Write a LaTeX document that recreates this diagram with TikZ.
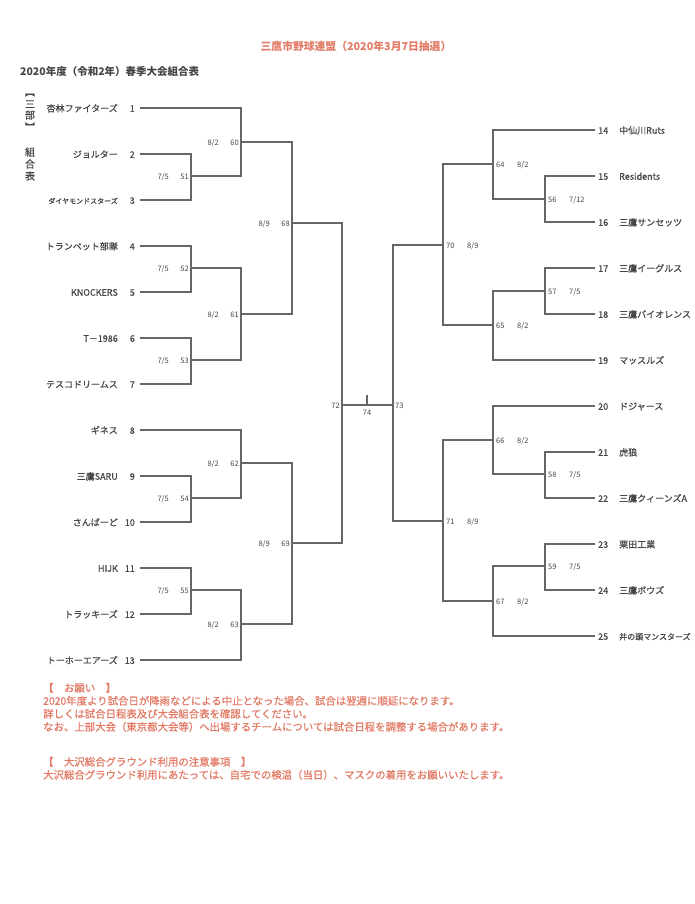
\documentclass[tikz,border=0pt]{standalone}
\usepackage{fontspec}
\setmainfont{Noto Sans CJK JP}
\newfontfamily\medfont{Noto Sans CJK JP}[FakeBold=0.5]
\definecolor{ink}{HTML}{454545}
\definecolor{wirec}{HTML}{666666}
\definecolor{redtxt}{HTML}{E27A66}
\newcommand\fsz[1]{\fontsize{#1}{#1}\selectfont}
\begin{document}
\begin{tikzpicture}[x=1pt,y=-1pt,
  wire/.style={draw=wirec, line width=1.1pt},
  txt/.style={inner sep=0pt, text=ink, text height=.75em, text depth=0pt},
  tname/.style={txt, font=\medfont\fsz{9}},
  tnum/.style={txt, font=\medfont\fsz{9}},
  code/.style={txt, font=\fsz{7.5}},
  vchar/.style={txt, font=\medfont\fsz{10}},
  redline/.style={inner sep=0pt, text=redtxt, text height=.75em, text depth=0pt, font=\medfont\fsz{10.4}, anchor=west}
]
\fill[white] (0,0) rectangle (694,904);
\useasboundingbox (0,0) rectangle (694,904);

% titles
\node[inner sep=0pt, text=redtxt, font=\fsz{10.8}\bfseries, text height=.75em, text depth=0pt] (title) at (356,47) {三鷹市野球連盟（2020年3月7日抽選）};
\node[txt, font=\fsz{10.5}\bfseries, anchor=west] (head) at (20,72) {2020年度（令和2年）春季大会組合表};

% vertical label
\node[vchar, rotate=-90] (vb1) at (30,92) {【};
\node[vchar] (v1) at (30,104) {三};
\node[vchar] (v2) at (30,115) {部};
\node[vchar, rotate=-90] (vb2) at (30,127) {】};
\node[vchar] (v3) at (30,152) {組};
\node[vchar] (v4) at (30,164) {合};
\node[vchar] (v5) at (30,176) {表};

% left teams
\foreach \n/\t/\s in {1/杏林ファイターズ/9, 2/ジョルター/9, 3/ダイヤモンドスターズ/7, 4/トランペット部隊/9,
  5/KNOCKERS/9, 6/T－1986/9, 7/テスコドリームス/9, 8/ギネス/9, 9/三鷹SARU/9, 10/さんぱーど/9,
  11/HIJK/9, 12/トラッキーズ/9, 13/トーホーエアーズ/9}{
  \pgfmathsetmacro\yy{108+46*(\n-1)}
  \node[tname, font=\medfont\fsz{\s}, anchor=east] (tl\n) at (118,\yy) {\t};
  \node[tnum, anchor=east] (nl\n) at (135,\yy) {\n};
  \coordinate (L\n) at (140,\yy);
}
% right teams
\foreach \n/\t/\s in {14/中仙川Ruts/9, 15/Residents/9, 16/三鷹サンセッツ/9, 17/三鷹イーグルス/9,
  18/三鷹バイオレンス/9, 19/マッスルズ/9, 20/ドジャース/9, 21/虎狼/9, 22/三鷹クィーンズA/9,
  23/栗田工業/9, 24/三鷹ボウズ/9, 25/井の頭マンスターズ/8}{
  \pgfmathsetmacro\yy{130+46*(\n-14)}
  \node[tnum, anchor=west] (nr\n) at (598,\yy) {\n};
  \node[tname, font=\medfont\fsz{\s}, anchor=west] (tr\n) at (619,\yy) {\t};
  \coordinate (R\n) at (595,\yy);
}

% left junctions
\coordinate (M51) at (191,176);
\coordinate (M52) at (191,268);
\coordinate (M53) at (191,360);
\coordinate (M54) at (191,498);
\coordinate (M55) at (191,590);
\coordinate (M60) at (241,142);
\coordinate (M61) at (241,314);
\coordinate (M62) at (241,463);
\coordinate (M63) at (241,624);
\coordinate (M68) at (292,223);
\coordinate (M69) at (292,543);
\coordinate (M72) at (342,405);
% right junctions
\coordinate (N56) at (545,199);
\coordinate (N57) at (545,291);
\coordinate (N58) at (545,474);
\coordinate (N59) at (545,566);
\coordinate (N64) at (493,164);
\coordinate (N65) at (493,325);
\coordinate (N66) at (493,440);
\coordinate (N67) at (493,601);
\coordinate (N70) at (443,245);
\coordinate (N71) at (443,521);
\coordinate (N73) at (393,405);
\coordinate (T74) at (367,405);
\coordinate (T74top) at (367,395);

% left bracket
\draw[wire] (L2) -| (M51) |- (L3);
\draw[wire] (L1) -| (M60) |- (M51);
\draw[wire] (L4) -| (M52) |- (L5);
\draw[wire] (L6) -| (M53) |- (L7);
\draw[wire] (M52) -| (M61) |- (M53);
\draw[wire] (M60) -| (M68) |- (M61);
\draw[wire] (L9) -| (M54) |- (L10);
\draw[wire] (L8) -| (M62) |- (M54);
\draw[wire] (L11) -| (M55) |- (L12);
\draw[wire] (M55) -| (M63) |- (L13);
\draw[wire] (M62) -| (M69) |- (M63);
\draw[wire] (M68) -| (M72) |- (M69);
% right bracket
\draw[wire] (R15) -| (N56) |- (R16);
\draw[wire] (R14) -| (N64) |- (N56);
\draw[wire] (R17) -| (N57) |- (R18);
\draw[wire] (N57) -| (N65) |- (R19);
\draw[wire] (N64) -| (N70) |- (N65);
\draw[wire] (R21) -| (N58) |- (R22);
\draw[wire] (R20) -| (N66) |- (N58);
\draw[wire] (R23) -| (N59) |- (R24);
\draw[wire] (N59) -| (N67) |- (R25);
\draw[wire] (N66) -| (N71) |- (N67);
\draw[wire] (N70) -| (N73) |- (N71);
% final
\draw[wire] (M72) -- (N73);
\draw[wire] (T74) -- (T74top);

% left labels
\foreach \m/\d in {51/7\slash 5, 52/7\slash 5, 53/7\slash 5, 54/7\slash 5, 55/7\slash 5,
  60/8\slash 2, 61/8\slash 2, 62/8\slash 2, 63/8\slash 2, 68/8\slash 9, 69/8\slash 9}{
  \node[code, anchor=east] (c\m) at ([xshift=-2pt]M\m) {\m};
  \node[code, anchor=east] (d\m) at ([xshift=-22pt]M\m) {\d};
}
% right labels
\foreach \m/\d in {56/7\slash 12, 57/7\slash 5, 58/7\slash 5, 59/7\slash 5,
  64/8\slash 2, 65/8\slash 2, 66/8\slash 2, 67/8\slash 2, 70/8\slash 9, 71/8\slash 9}{
  \node[code, anchor=west] (c\m) at ([xshift=3pt]N\m) {\m};
  \node[code, anchor=west] (d\m) at ([xshift=24pt]N\m) {\d};
}
\node[code, anchor=east] (c72) at ([xshift=-2pt]M72) {72};
\node[code, anchor=west] (c73) at ([xshift=2pt]N73) {73};
\node[code, anchor=north] (c74) at ([yshift=-3pt]T74) {74};

% footer notes
\node[redline] (f1) at (43,688) {【　お願い　】};
\node[redline] (f2) at (43,701) {2020年度より試合日が降雨などによる中止となった場合、試合は翌週に順延になります。};
\node[redline] (f3) at (43,714) {詳しくは試合日程表及び大会組合表を確認してください。};
\node[redline] (f4) at (43,727) {なお、上部大会（東京都大会等）へ出場するチームについては試合日程を調整する場合があります。};
\node[redline] (f5) at (43,762) {【　大沢総合グラウンド利用の注意事項　】};
\node[redline] (f6) at (43,775) {大沢総合グラウンド利用にあたっては、自宅での検温（当日）、マスクの着用をお願いいたします。};
\end{tikzpicture}
\end{document}
